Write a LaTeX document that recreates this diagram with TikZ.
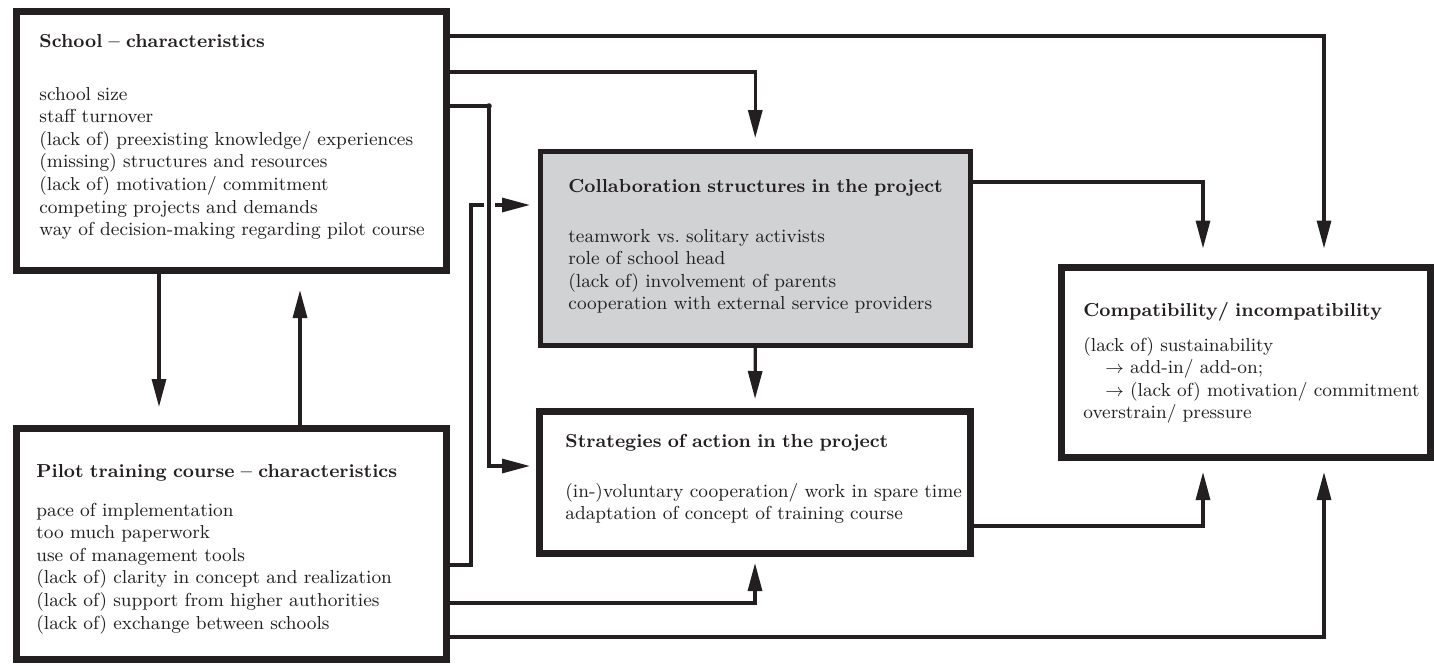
\documentclass[tikz,border=0pt]{standalone}
\usepackage{fontspec}
\usetikzlibrary{arrows.meta}
\definecolor{ink}{HTML}{231F20}
\definecolor{boxgray}{HTML}{D1D2D4}
\begin{document}
\begin{tikzpicture}[x=0.5pt,y=-0.5pt,
  box/.style={draw=ink, line width=3.5pt, inner sep=0pt, fill=white},
  txt/.style={anchor=base west, inner sep=0pt, align=left, text=ink, text width=212pt,
    font=\fontsize{9.4}{11.3}\selectfont},
  conn/.style={draw=ink, line width=1.6pt},
  arr/.style={conn, -{Triangle[length=14pt,width=7pt]}}]
\useasboundingbox (0,0) rectangle (1434,665);
% boxes
\node[box, minimum width=215pt, minimum height=129.5pt] (school) at (231,140.5) {};
\node[box, minimum width=215pt, minimum height=115.5pt] (pilot) at (231,543.5) {};
\node[box, fill=boxgray, line width=2.5pt, minimum width=214.75pt, minimum height=97pt] (collab) at (755.25,248.5) {};
\node[box, minimum width=215.5pt, minimum height=71pt] (strat) at (755,482.5) {};
\node[box, minimum width=184.25pt, minimum height=95pt] (compat) at (1245.75,362) {};
% texts
\node[txt] (schooltxt) at (39,47) {\textbf{School -- characteristics}\\[15.2pt]
school size\\ staff turnover\\ (lack of) preexisting knowledge/ experiences\\
(missing) structures and resources\\ (lack of) motivation/ commitment\\
competing projects and demands\\ way of decision-making regarding pilot course};
\node[txt] (collabtxt) at (568,192) {\textbf{Collaboration structures in the project}\\[13.7pt]
teamwork vs.\ solitary activists\\ role of school head\\ (lack of) involvement of parents\\
cooperation with external service providers};
\node[txt] (compattxt) at (1083,316) {\textbf{Compatibility/ incompatibility}\\[6.2pt]
(lack of) sustainability\\ \hspace*{11pt}$\rightarrow$ add-in/ add-on;\\
\hspace*{11pt}$\rightarrow$ (lack of) motivation/ commitment\\ overstrain/ pressure};
\node[txt] (pilottxt) at (36,477) {\textbf{Pilot training course -- characteristics}\\[8.2pt]
pace of implementation\\ too much paperwork\\ use of management tools\\
(lack of) clarity in concept and realization\\ (lack of) support from higher authorities\\
(lack of) exchange between schools};
\node[txt] (strattxt) at (565,447) {\textbf{Strategies of action in the project}\\[13.7pt]
(in-)voluntary cooperation/ work in spare time\\ adaptation of concept of training course};
% connectors
\draw[arr, shorten >=7.5pt] (school.east |- 0,36) -| (compat.north -| 1324,0);
\draw[arr, shorten >=5.5pt] (school.east |- 0,72) -| (collab.north);
\draw[arr, shorten >=4pt] (pilot.east |- 0,565) -| (471,205) -- (collab.west |- 0,205);
\draw[white, line width=5.5pt] (489,190) -- (489,220);
\draw[arr, shorten >=3pt] (school.east |- 0,106) -| (489,466) -- (strat.west |- 0,466);
\fill[ink] (489,106) circle (1.4pt);
\draw[arr, shorten >=3pt] (pilot.east |- 0,603) -| (strat.south);
\draw[arr, shorten >=5.75pt] (pilot.east |- 0,637) -| (compat.south -| 1324,0);
\draw[arr, shorten >=7.5pt] (collab.east |- 0,182) -| (compat.north -| 1203,0);
\draw[arr, shorten >=5.75pt] (strat.east |- 0,526) -| (compat.south -| 1203,0);
\draw[arr, shorten >=4.5pt] (collab.south) -- (strat.north);
\draw[arr, shorten >=8.75pt] (school.south -| 159,0) -- (pilot.north -| 159,0);
\draw[arr, shorten >=8.25pt] (pilot.north -| 300,0) -- (school.south -| 300,0);
\end{tikzpicture}
\end{document}
